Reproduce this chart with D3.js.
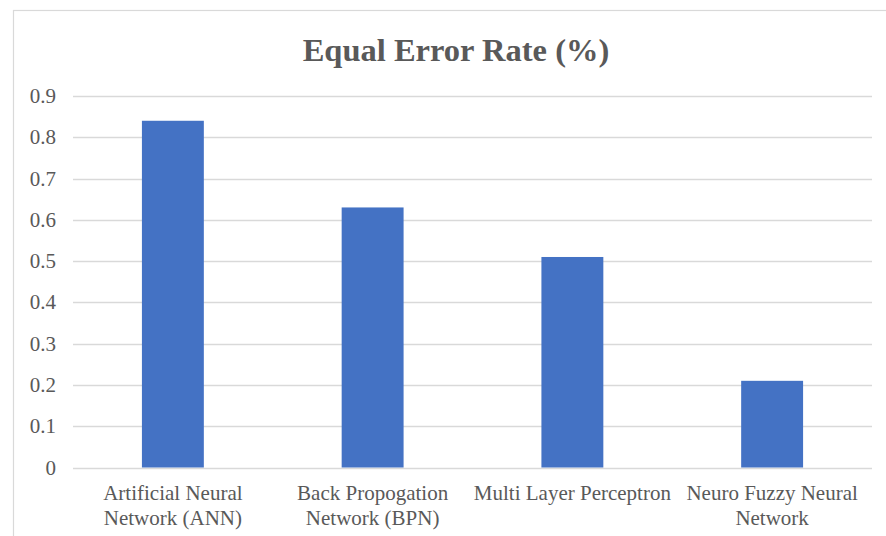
<!DOCTYPE html>
<html><head><meta charset="utf-8">
<script src="https://cdn.jsdelivr.net/npm/d3@7"></script>
<style>body{margin:0;background:#fff;overflow:hidden}</style>
</head><body>
<svg id="c" width="886" height="536"></svg>
<script>
const categories = [["Artificial Neural","Network (ANN)"],["Back Propogation","Network (BPN)"],["Multi Layer Perceptron"],["Neuro Fuzzy Neural","Network"]];
const values = [0.84, 0.63, 0.51, 0.21];
const yTicks = [0,0.1,0.2,0.3,0.4,0.5,0.6,0.7,0.8,0.9];
const title = "Equal Error Rate (%)";

(function(){
const svg = d3.select("#c");
const font = "'Liberation Serif','Times New Roman',serif";
const gray = "#595959";
svg.append("rect").attr("x",13.5).attr("y",10.5).attr("width",890).attr("height",540)
  .attr("fill","#fff").attr("stroke","#d9d9d9").attr("stroke-width",1.2);

const pL = 73, pR = 872, pT = 96, pB = 467.5;
const x = d3.scaleBand().domain(d3.range(categories.length)).range([pL,pR]).paddingInner(0.69).paddingOuter(0.345);
const y = d3.scaleLinear().domain([0,0.9]).range([pB,pT]);

svg.append("g").selectAll("line").data(yTicks).join("line")
  .attr("x1",pL).attr("x2",pR)
  .attr("y1",d=>Math.round(y(d))+0.5).attr("y2",d=>Math.round(y(d))+0.5)
  .attr("stroke","#d9d9d9").attr("stroke-width",1.3);

svg.append("g").selectAll("text").data(yTicks).join("text")
  .attr("x",56).attr("y",d=>y(d)+7).attr("text-anchor","end")
  .attr("font-family",font).attr("font-size",21).attr("fill",gray)
  .text(d=>d===0?"0":d.toFixed(1));

svg.append("g").selectAll("rect").data(values).join("rect")
  .attr("x",(d,i)=>x(i)).attr("width",x.bandwidth())
  .attr("y",d=>y(d)).attr("height",d=>y(0)-y(d))
  .attr("fill","#4472c4");

const lab = svg.append("g").selectAll("text").data(categories).join("text")
  .attr("x",(d,i)=>x(i)+x.bandwidth()/2).attr("y",500)
  .attr("text-anchor","middle").attr("font-family",font).attr("font-size",21).attr("fill",gray);
lab.selectAll("tspan").data(d=>d).join("tspan")
  .attr("x",function(){return this.parentNode.getAttribute("x");})
  .attr("dy",(d,i)=>i===0?0:25).text(d=>d);

svg.append("text").attr("x",456).attr("y",61).attr("text-anchor","middle")
  .attr("font-family",font).attr("font-size",32.5).attr("font-weight","bold").attr("fill",gray)
  .text(title);
})();
</script>
</body></html>
